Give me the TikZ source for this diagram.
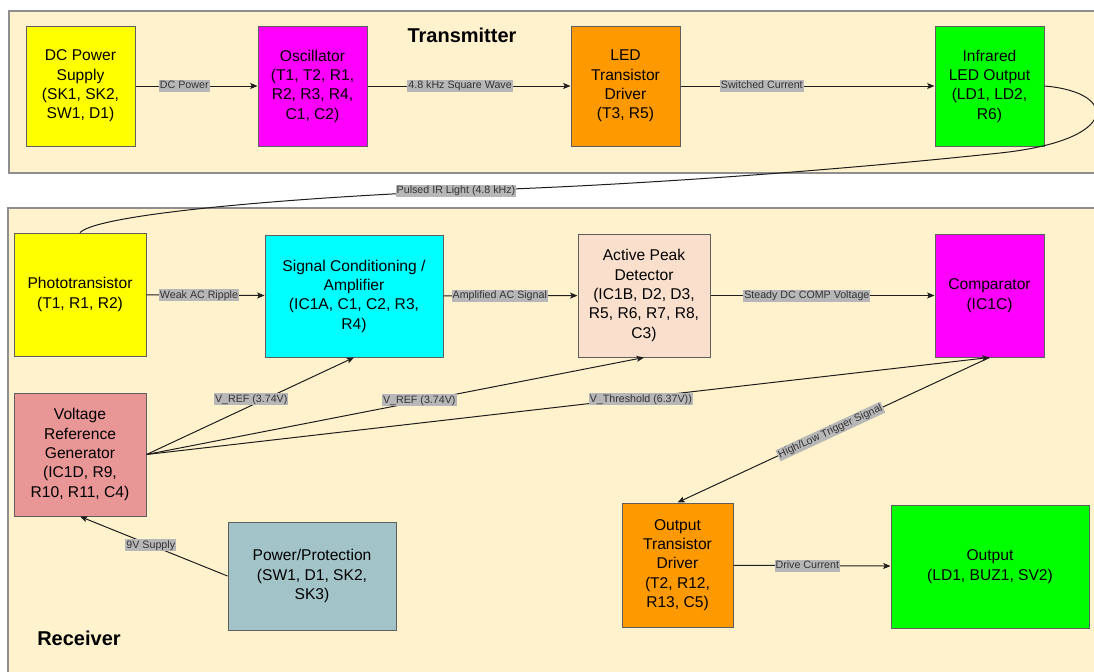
\documentclass[tikz,border=0pt]{standalone}
\usepackage{fontspec}
\setmainfont{Liberation Sans}
\usetikzlibrary{arrows.meta}
\definecolor{panelfill}{HTML}{FFF2CC}
\definecolor{panelline}{HTML}{8E8E8E}
\definecolor{boxline}{HTML}{5F5F5F}
\definecolor{cyellow}{HTML}{FFFF00}
\definecolor{cmagenta}{HTML}{FF00FF}
\definecolor{corange}{HTML}{FF9900}
\definecolor{cgreen}{HTML}{00FF00}
\definecolor{ccyan}{HTML}{00FFFF}
\definecolor{cpeach}{HTML}{FADFCC}
\definecolor{cpink}{HTML}{E99696}
\definecolor{cteal}{HTML}{A2C4C9}
\definecolor{lblgray}{HTML}{B7B7B7}
\definecolor{lbltext}{HTML}{333333}
\definecolor{linec}{HTML}{1E1E1E}
\begin{document}
\begin{tikzpicture}[x=0.75pt,y=-0.75pt,
  blk/.style={draw=boxline, line width=0.75pt, align=center, inner sep=0pt,
    font=\fontsize{11.7}{14.5}\selectfont, text=black},
  lbl/.style={fill=lblgray, inner xsep=0.8pt, inner ysep=0.6pt, text height=6.1pt, text depth=1.7pt,
    font=\fontsize{8}{9}\selectfont, text=lbltext},
  conn/.style={draw=linec, line width=0.75pt, -{Stealth[length=5.5pt,width=4.5pt,inset=1.2pt]}},
  plain/.style={draw=linec, line width=0.75pt},
  panel/.style={fill=panelfill, draw=panelline, line width=1pt},
  title/.style={font=\fontsize{15}{18}\selectfont\bfseries, text=black}]
\useasboundingbox (0,0) rectangle (1094,671);
\fill[white] (0,0) rectangle (1094,671);

% panels
\draw[panel] (9,11) rectangle (1110,173);
\draw[panel] (8,208) rectangle (1110,690);
\node[title] (ttx) at (462,35) {Transmitter};
\node[title] (trx) at (79,638) {Receiver};

% transmitter blocks
\node[blk, fill=cyellow, minimum width=81.75pt, minimum height=90pt] (dc) at (80.5,86) {DC Power\\Supply\\(SK1, SK2,\\SW1, D1)};
\node[blk, fill=cmagenta, minimum width=81.75pt, minimum height=90pt] (osc) at (312.5,86) {Oscillator\\(T1, T2, R1,\\R2, R3, R4,\\C1, C2)};
\node[blk, fill=corange, minimum width=81.75pt, minimum height=90pt] (led) at (625.5,86) {LED\\Transistor\\Driver\\(T3, R5)};
\node[blk, fill=cgreen, minimum width=81.75pt, minimum height=90pt] (ir) at (989.5,86) {Infrared\\LED Output\\(LD1, LD2,\\R6)};

% receiver blocks
\node[blk, fill=cyellow, minimum width=99pt, minimum height=92.25pt] (photo) at (80,294.5) {Phototransistor\\(T1, R1, R2)};
\node[blk, fill=ccyan, minimum width=133.5pt, minimum height=91.5pt] (sc) at (354,296) {Signal Conditioning /\\Amplifier\\(IC1A, C1, C2, R3,\\R4)};
\node[blk, fill=cpeach, minimum width=99pt, minimum height=92.25pt] (apd) at (644,295.5) {Active Peak\\Detector\\(IC1B, D2, D3,\\R5, R6, R7, R8,\\C3)};
\node[blk, fill=cmagenta, minimum width=81.75pt, minimum height=92.25pt] (comp) at (989.5,295.5) {Comparator\\(IC1C)};
\node[blk, fill=cpink, minimum width=99pt, minimum height=92.25pt] (vrg) at (80,454.5) {Voltage\\Reference\\Generator\\(IC1D, R9,\\R10, R11, C4)};
\node[blk, fill=cteal, minimum width=126pt, minimum height=81pt] (pp) at (312,576) {Power/Protection\\(SW1, D1, SK2,\\SK3)};
\node[blk, fill=corange, minimum width=83.25pt, minimum height=93pt] (otd) at (677.5,565) {Output\\Transistor\\Driver\\(T2, R12,\\R13, C5)};
\node[blk, fill=cgreen, minimum width=148.5pt, minimum height=92.25pt] (out) at (990,566.5) {Output\\(LD1, BUZ1, SV2)};

% transmitter connectors
\draw[conn] (dc) -- node[lbl, pos=0.40] {DC Power} (osc);
\draw[conn] (osc) -- node[lbl, pos=0.456] {4.8 kHz Square Wave} (led);
\draw[conn] (led) -- node[lbl, pos=0.32] {Switched Current} (ir);

% IR link
\coordinate (irA) at (1000,153);
\coordinate (irB) at (456,191);
\draw[plain] (ir.east) .. controls (1118,92) and (1122,140) .. (irA)
  .. controls (820,172) and (620,186) .. (irB)
  .. controls (306,197) and (100,213) .. (photo.north);
\node[lbl] (irlbl) at (irB) {Pulsed IR Light (4.8 kHz)};

% receiver connectors
\draw[conn] (photo) -- node[lbl, pos=0.445] {Weak AC Ripple} (sc);
\draw[conn] (sc) -- node[lbl, pos=0.42] {Amplified AC Signal} (apd);
\draw[conn] (apd) -- node[lbl, pos=0.43] {Steady DC COMP Voltage} (comp);

\draw[conn] (vrg.east) -- node[lbl, pos=0.569, xshift=-10pt] {V\_REF (3.74V)} (sc.south);
\draw[conn] (vrg.east) -- node[lbl, pos=0.559, xshift=-4pt] {V\_REF (3.74V)} (apd.south);
\draw[conn] (vrg.east) -- node[lbl, pos=0.569, xshift=11pt] {V\_Threshold (6.37V))} (comp.south);
\draw[conn] (comp.south) -- node[lbl, pos=0.51, sloped] {High/Low Trigger Signal} (otd.north);
\draw[conn] (pp.west) -- node[lbl, pos=0.52] {9V Supply} (vrg.south);
\draw[conn] (otd) -- node[lbl, pos=0.47] {Drive Current} (out);
\end{tikzpicture}
\end{document}
